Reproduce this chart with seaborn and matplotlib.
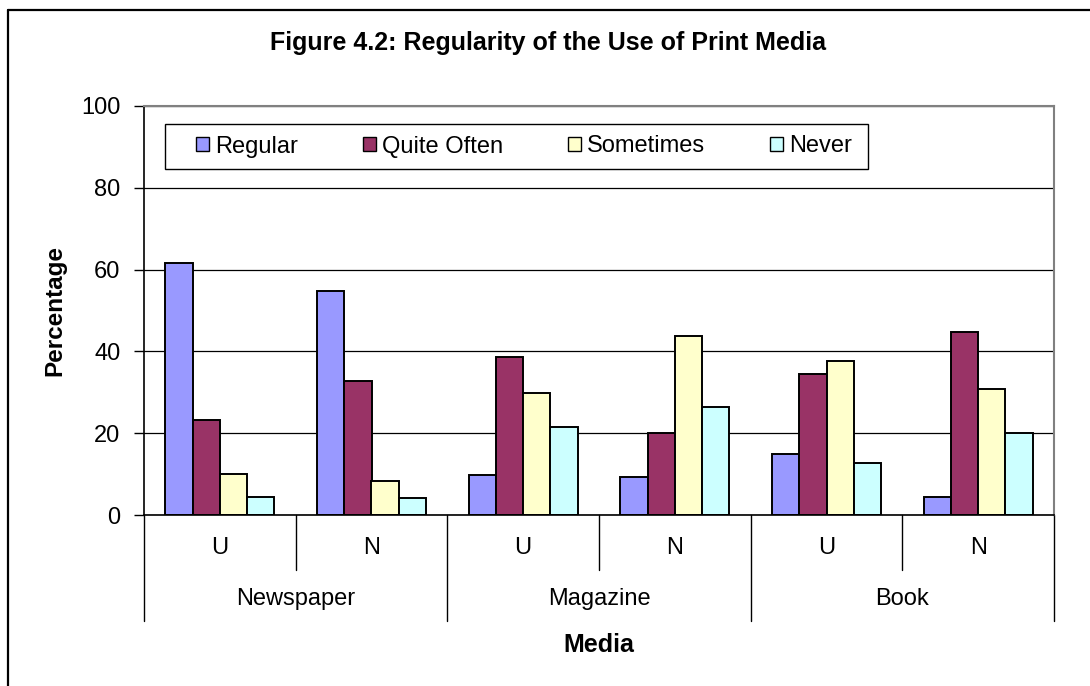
import matplotlib
matplotlib.use("Agg")
import matplotlib.pyplot as plt
from matplotlib.lines import Line2D
from matplotlib.patches import Rectangle
import seaborn as sns
import pandas as pd

# ---- data ----
media = ["Newspaper", "Magazine", "Book"]
groups = ["U", "N"]
responses = ["Regular", "Quite Often", "Sometimes", "Never"]
regular = [61.7, 54.7, 9.8, 9.2, 14.9, 4.5]
quite_often = [23.2, 32.7, 38.7, 20.0, 34.5, 44.7]
sometimes = [10.1, 8.3, 29.8, 43.8, 37.7, 30.7]
never = [4.5, 4.1, 21.4, 26.5, 12.6, 20.0]
colors = ["#9999FF", "#993366", "#FFFFCC", "#CCFFFF"]
yticks = [0, 20, 40, 60, 80, 100]

cats = [f"{m} {g}" for m in media for g in groups]
series = [regular, quite_often, sometimes, never]
rows = []
for r, vals in zip(responses, series):
    for c, v in zip(cats, vals):
        rows.append({"cat": c, "response": r, "value": v})
df = pd.DataFrame(rows)

sns.set_style("white")
plt.rcParams["font.family"] = ["Liberation Sans", "DejaVu Sans"]
plt.rcParams["text.color"] = "black"
plt.rcParams["axes.labelcolor"] = "black"
plt.rcParams["xtick.color"] = "black"
plt.rcParams["ytick.color"] = "black"

fig = plt.figure(figsize=(10.9, 6.86), dpi=100)
W, H = 1090, 686
ax = fig.add_axes([144 / W, 1 - 515 / H, (1054 - 144) / W, (515 - 106) / H])

sns.barplot(data=df, x="cat", y="value", hue="response", order=cats,
            hue_order=responses, palette=colors, width=0.72, gap=0,
            edgecolor="black", linewidth=1.4, errorbar=None, saturation=1,
            ax=ax)

ax.set_xlim(-0.5, len(cats) - 0.5)
ax.set_ylim(0, 100)
ax.set_yticks(yticks)
ax.set_yticklabels([str(t) for t in yticks], fontsize=17)
ax.tick_params(axis="y", direction="out", length=7, width=1, colors="black", pad=10, left=True)
ax.yaxis.grid(True, color="black", linewidth=0.9)
ax.set_axisbelow(True)
for s in ["top", "right"]:
    ax.spines[s].set_color("#808080")
    ax.spines[s].set_linewidth(1.5)
for s in ["left", "bottom"]:
    ax.spines[s].set_color("black")
    ax.spines[s].set_linewidth(1.2)

# hierarchical category axis
ax.set_xticks([])
trans = ax.get_xaxis_transform()
ah = 515 - 106
short = -55 / ah
long_ = -106 / ah
for i in range(len(cats) + 1):
    xpos = i - 0.5
    y1 = long_ if i % 2 == 0 else short
    ax.add_line(Line2D([xpos, xpos], [0, y1], transform=trans, color="black",
                       linewidth=1, clip_on=False))
for i, c in enumerate(cats):
    ax.text(i, -33 / ah, groups[i % 2], transform=trans, ha="center", va="center",
            fontsize=17, color="black")
for j, m in enumerate(media):
    ax.text(2 * j + 0.5, -84 / ah, m, transform=trans, ha="center", va="center",
            fontsize=17, color="black")

ax.set_xlabel("Media", fontsize=18, fontweight="bold", color="black")
ax.xaxis.set_label_coords(0.5, -130 / ah)
ax.xaxis.label.set_va("center")
ax.set_ylabel("Percentage", fontsize=17.5, fontweight="bold", color="black")
ax.yaxis.set_label_coords((55 - 144) / (1054 - 144), 0.5)
ax.yaxis.label.set_va("center")

# legend box (drawn beneath the legend entries)
ax.add_patch(Rectangle((165 / W, 1 - 169 / H), 703 / W, 45 / H,
                       transform=fig.transFigure, facecolor="white",
                       edgecolor="black", linewidth=1, zorder=4, clip_on=False))
handles, labels = ax.get_legend_handles_labels()
leg = ax.legend(handles, labels, ncol=4, loc="center",
                bbox_to_anchor=(188 / W, 1 - 169 / H, 672 / W, 45 / H),
                bbox_transform=fig.transFigure, mode="expand",
                frameon=False, fontsize=17, handlelength=0.55, handleheight=0.55,
                handletextpad=0.25, borderpad=0.35, borderaxespad=0)
leg.set_zorder(6)
for h in leg.legend_handles:
    h.set_linewidth(1)
    h.set_edgecolor("black")

# title
fig.text(547.5 / W, 1 - 43 / H, "Figure 4.2: Regularity of the Use of Print Media",
         ha="center", va="center", fontsize=18, fontweight="bold", color="black")

# outer frame (left and top)
fig.add_artist(Line2D([8 / W, 8 / W], [0, 1 - 10 / H], transform=fig.transFigure,
                      color="black", linewidth=1.6))
fig.add_artist(Line2D([8 / W, 1], [1 - 10 / H, 1 - 10 / H], transform=fig.transFigure,
                      color="black", linewidth=1.6))

fig.savefig("out.png", dpi=100, facecolor="white")
